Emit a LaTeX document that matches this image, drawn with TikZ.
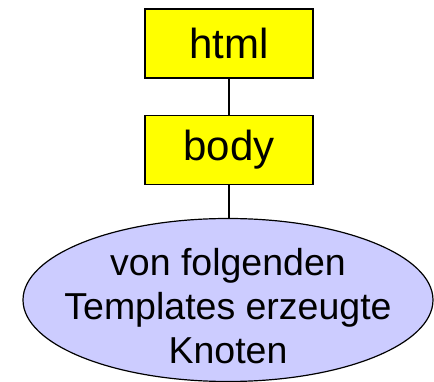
\documentclass[tikz,border=0pt]{standalone}
\usepackage{fontspec}
\setmainfont{Liberation Sans}
\usetikzlibrary{shapes.geometric}
\definecolor{boxyellow}{RGB}{255,255,0}
\definecolor{ovalblue}{RGB}{204,204,255}
\tikzset{
  elem/.style={draw=black, line width=1.2pt, fill=boxyellow, minimum width=168pt,
    minimum height=69pt, inner sep=0pt, font=\fontsize{42}{48}\selectfont},
  oval/.style={draw=black, line width=1.2pt, fill=ovalblue, ellipse, minimum width=410pt,
    minimum height=163pt, inner sep=0pt},
  ovaltext/.style={align=center, inner sep=0pt, font=\fontsize{37.5}{44}\selectfont},
  link/.style={draw=black, line width=1.2pt}
}
\begin{document}
\begin{tikzpicture}[x=1pt,y=-1pt]
  \useasboundingbox (0,0) rectangle (434,382);
  \node[elem] (html) at (229,43.5) {html};
  \node[elem] (body) at (229,150) {body};
  \node[oval] (nodes) at (228,300) {};
  \node[ovaltext] (nodestext) at (228,306) {von folgenden\\Templates erzeugte\\Knoten};
  \draw[link] (html) -- (body);
  \draw[link] (body.south) -- (body.south |- nodes.north);
\end{tikzpicture}
\end{document}
